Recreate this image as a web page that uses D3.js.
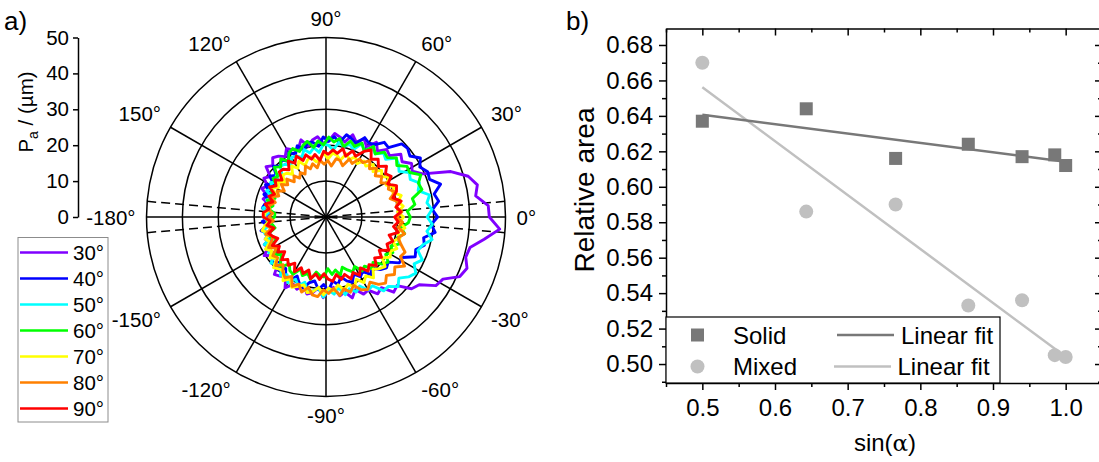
<!DOCTYPE html>
<html>
<head>
<meta charset="utf-8">
<script src="https://cdn.jsdelivr.net/npm/d3@7"></script>
<style>
  body { margin: 0; background: #fff; }
  svg { display: block; font-family: "Liberation Sans", Arial, sans-serif; }
</style>
</head>
<body>
<svg id="chart" width="1099" height="462"></svg>
<script>
// ---------- panel a: pore radius P_a versus polar angle, one curve per inclination ----------
const profileAngles = [
  -180, -176, -172, -168, -164, -160, -156, -152, -148, -144, -140, -136, -132, -128, -124,
  -120, -116, -112, -108, -104, -100, -96, -92, -88, -84, -80, -76, -72, -68, -64,
  -60, -56, -52, -48, -44, -40, -36, -32, -28, -24, -20, -16, -12, -8, -4,
  0, 4, 8, 12, 16, 20, 24, 28, 32, 36, 40, 44, 48, 52, 56,
  60, 64, 68, 72, 76, 80, 84, 88, 92, 96, 100, 104, 108, 112, 116,
  120, 124, 128, 132, 136, 140, 144, 148, 152, 156, 160, 164, 168, 172, 176
];
const profile30 = [
  16.6, 15.0, 16.8, 18.2, 16.4, 16.0, 18.8, 18.1, 20.3, 18.1, 19.9, 18.5, 21.5, 20.9, 20.1,
  22.8, 20.8, 21.7, 19.7, 22.1, 21.4, 19.8, 22.5, 20.5, 19.7, 22.3, 21.5, 23.7, 21.8, 23.9,
  23.5, 25.8, 25.0, 28.2, 27.5, 31.1, 32.1, 36.1, 36.9, 40.8, 41.8, 40.5, 41.0, 44.5, 48.5,
  45.5, 45.3, 42.1, 43.1, 41.2, 37.0, 29.5, 27.2, 28.1, 26.2, 27.2, 24.6, 25.3, 23.3, 25.1,
  22.6, 24.2, 22.5, 24.1, 21.5, 22.6, 23.4, 21.2, 20.5, 22.5, 21.8, 20.3, 22.6, 20.5, 20.8,
  22.0, 20.3, 21.5, 22.2, 20.6, 21.8, 19.2, 20.4, 18.4, 19.6, 17.4, 18.2, 16.0, 17.0, 15.6
];
const profile40 = [
  15.7, 17.8, 16.6, 18.5, 16.3, 18.0, 16.5, 18.8, 18.3, 17.2, 19.8, 18.2, 19.9, 18.2, 20.2,
  20.4, 18.3, 19.9, 20.8, 18.8, 18.1, 20.3, 18.8, 20.5, 17.9, 19.1, 17.2, 18.7, 19.6, 17.7,
  19.2, 18.3, 20.4, 19.1, 21.1, 22.0, 21.4, 24.1, 24.0, 27.2, 26.6, 28.5, 27.8, 30.7, 29.4,
  31.1, 29.7, 31.7, 30.8, 33.2, 30.7, 31.0, 29.6, 31.0, 28.9, 29.7, 29.3, 26.0, 26.4, 24.3,
  23.8, 24.6, 22.1, 23.0, 23.6, 21.0, 22.5, 21.1, 22.3, 19.8, 21.1, 21.5, 19.6, 21.4, 19.4,
  20.8, 18.7, 20.1, 19.1, 20.4, 18.1, 19.3, 17.2, 19.1, 17.3, 18.4, 16.3, 17.4, 17.9, 15.9
];
const profile50 = [
  17.5, 16.1, 15.8, 17.9, 17.6, 16.3, 18.8, 17.5, 18.8, 17.4, 20.0, 18.9, 18.5, 20.6, 19.4,
  21.2, 19.3, 20.7, 19.1, 21.5, 20.9, 19.9, 22.3, 20.4, 21.6, 20.0, 22.3, 21.0, 22.5, 21.4,
  23.5, 23.1, 26.1, 26.0, 27.9, 26.5, 28.4, 29.5, 27.8, 29.4, 27.2, 28.1, 30.2, 28.4, 29.7,
  28.2, 29.6, 28.4, 29.5, 26.7, 27.7, 25.7, 26.3, 24.0, 25.0, 25.5, 23.1, 24.0, 22.3, 23.2,
  21.4, 22.7, 20.3, 21.3, 20.2, 21.2, 18.8, 20.0, 20.3, 18.1, 19.6, 18.4, 19.8, 17.9, 18.9,
  19.2, 17.4, 18.6, 19.1, 17.0, 18.1, 16.2, 18.2, 16.8, 18.1, 16.1, 17.2, 16.1, 17.8, 16.1
];
const profile60 = [
  14.3, 16.2, 15.1, 14.5, 16.7, 16.4, 15.0, 17.5, 16.2, 17.8, 16.2, 17.6, 18.7, 16.6, 18.0,
  18.4, 16.1, 17.6, 16.5, 17.9, 15.6, 16.4, 16.7, 14.4, 16.1, 15.0, 16.6, 14.7, 15.9, 17.0,
  15.9, 18.1, 17.4, 19.4, 18.2, 20.4, 21.4, 19.6, 21.1, 19.8, 21.9, 20.7, 22.4, 21.1, 23.0,
  23.5, 22.7, 25.0, 24.6, 27.8, 27.4, 28.9, 26.4, 26.6, 24.4, 25.6, 23.8, 24.3, 22.3, 23.7,
  21.2, 22.9, 21.2, 22.2, 20.2, 22.2, 21.0, 22.3, 20.1, 21.3, 19.7, 21.7, 20.9, 19.7, 21.2,
  20.6, 18.8, 20.5, 18.8, 20.0, 17.6, 18.2, 16.0, 17.3, 16.5, 15.1, 17.0, 15.1, 16.2, 14.3
];
const profile70 = [
  17.3, 15.8, 17.2, 18.2, 16.3, 18.0, 17.1, 19.1, 17.8, 19.3, 17.9, 20.3, 19.5, 19.2, 21.4,
  19.9, 21.8, 20.8, 19.9, 21.7, 21.1, 19.7, 21.7, 19.8, 20.7, 19.2, 21.0, 19.7, 21.1, 19.3,
  21.1, 19.8, 21.5, 19.6, 20.7, 21.5, 19.4, 21.1, 20.3, 21.6, 19.8, 21.4, 20.4, 22.2, 20.6,
  21.6, 20.0, 21.7, 20.5, 21.8, 19.8, 20.7, 19.0, 20.8, 19.2, 20.2, 18.2, 19.7, 18.0, 18.8,
  17.2, 18.7, 17.2, 18.5, 16.3, 17.5, 17.9, 16.1, 17.9, 16.3, 15.6, 17.3, 16.7, 15.5, 17.3,
  15.7, 17.1, 15.1, 16.4, 16.8, 15.0, 16.6, 15.6, 17.1, 15.2, 16.5, 14.9, 16.9, 15.8, 17.0
];
const profile80 = [
  15.9, 14.7, 16.8, 15.6, 17.5, 15.7, 16.6, 18.1, 16.3, 18.3, 17.6, 19.5, 17.9, 19.5, 20.4,
  19.1, 21.5, 20.2, 22.0, 20.2, 22.0, 22.3, 20.3, 21.3, 20.0, 22.2, 20.6, 22.0, 20.5, 22.6,
  23.3, 21.9, 23.8, 24.8, 23.4, 24.9, 23.7, 25.8, 23.5, 24.1, 22.2, 20.9, 22.4, 20.3, 21.4,
  19.7, 21.2, 19.7, 20.5, 18.6, 20.5, 19.0, 19.9, 18.0, 19.2, 17.9, 19.6, 18.1, 19.9, 18.3,
  18.7, 16.6, 17.4, 15.0, 16.2, 16.5, 14.3, 15.7, 14.7, 15.9, 13.9, 15.3, 14.1, 15.3, 13.3,
  14.3, 13.1, 14.5, 13.2, 15.2, 13.9, 15.4, 13.7, 15.4, 14.4, 16.4, 14.7, 15.9, 16.5, 14.9
];
const profile90 = [
  17.5, 15.6, 16.5, 14.8, 16.6, 15.8, 14.7, 16.9, 15.3, 16.6, 15.0, 17.2, 15.9, 17.1, 15.5,
  17.6, 15.7, 17.0, 15.5, 17.7, 16.1, 17.5, 15.8, 17.3, 18.0, 16.3, 17.9, 16.8, 18.6, 17.2,
  18.7, 17.1, 19.1, 17.9, 19.5, 17.7, 19.1, 17.5, 19.8, 18.6, 19.8, 18.3, 20.6, 19.0, 20.2,
  19.1, 20.9, 19.7, 21.4, 19.4, 20.9, 21.5, 19.5, 21.4, 20.5, 22.0, 20.3, 21.7, 20.4, 22.5,
  21.1, 18.8, 19.9, 17.8, 19.6, 18.0, 18.8, 17.5, 18.3, 15.9, 17.7, 16.6, 18.2, 17.0, 18.9,
  17.3, 18.8, 16.7, 17.9, 18.1, 16.0, 17.5, 16.4, 17.8, 15.7, 16.9, 15.4, 17.3, 16.0, 17.5
];
const inclinationLabels = ["30°", "40°", "50°", "60°", "70°", "80°", "90°"];
const inclinationColors = ["#8000ff", "#0000ff", "#00ffff", "#00ff00", "#ffff00", "#ff8000", "#ff0000"];
const profiles = [profile30, profile40, profile50, profile60, profile70, profile80, profile90];

const ringValues = [10, 20, 30, 40, 50];
const radialTicks = [0, 10, 20, 30, 40, 50];
const spokeAngles = [0, 30, 60, 90, 120, 150, 180, 210, 240, 270, 300, 330];
const angleTickValues = [0, 30, 60, 90, 120, 150, 180, -150, -120, -90, -60, -30];
const angleTickLabels = ["0°", "30°", "60°", "90°", "120°", "150°", "-180°", "-150°", "-120°", "-90°", "-60°", "-30°"];
const guideAngles = [5, -5];

// ---------- panel b: relative area versus sin(alpha) ----------
const sinAlpha = [0.5, 0.643, 0.766, 0.866, 0.940, 0.985, 1.0];
const solidArea = [0.637, 0.644, 0.616, 0.624, 0.617, 0.618, 0.612];
const mixedArea = [0.670, 0.586, 0.590, 0.533, 0.536, 0.505, 0.504];
const xMajorTicks = [0.5, 0.6, 0.7, 0.8, 0.9, 1.0];
const xMinorTicks = [0.45, 0.55, 0.65, 0.75, 0.85, 0.95, 1.05];
const yMajorTicks = [0.50, 0.52, 0.54, 0.56, 0.58, 0.60, 0.62, 0.64, 0.66, 0.68];
const yMinorTicks = [0.49, 0.51, 0.53, 0.55, 0.57, 0.59, 0.61, 0.63, 0.65, 0.67];

const svg = d3.select("#chart");
const ink = "#000";

// ===== panel a =====
const cx = 326, cy = 217, outerR = 179.5;
const rScale = d3.scaleLinear().domain([0, 50]).range([0, outerR]);
const rad = d => d * Math.PI / 180;
const gp = svg.append("g").attr("transform", `translate(${cx},${cy})`);

gp.selectAll("circle.ring").data(ringValues).join("circle")
  .attr("class", "ring").attr("r", d => rScale(d))
  .attr("fill", "none").attr("stroke", ink).attr("stroke-width", 1.5);

gp.selectAll("line.spoke").data(spokeAngles).join("line")
  .attr("class", "spoke")
  .attr("x1", 0).attr("y1", 0)
  .attr("x2", d => rScale(50) * Math.cos(rad(d)))
  .attr("y2", d => -rScale(50) * Math.sin(rad(d)))
  .attr("stroke", ink).attr("stroke-width", 1.5);

gp.selectAll("line.guide").data(guideAngles).join("line")
  .attr("class", "guide")
  .attr("x1", d => rScale(50) * Math.cos(rad(d)))
  .attr("y1", d => -rScale(50) * Math.sin(rad(d)))
  .attr("x2", d => rScale(50) * Math.cos(rad(d + 180)))
  .attr("y2", d => -rScale(50) * Math.sin(rad(d + 180)))
  .attr("stroke", ink).attr("stroke-width", 1.5).attr("stroke-dasharray", "9,5");

const radialLine = d3.lineRadial()
  .angle(d => rad(90 - d[0]))
  .radius(d => rScale(d[1]))
  .curve(d3.curveLinearClosed);

profiles.forEach((vals, k) => {
  gp.append("path")
    .attr("d", radialLine(profileAngles.map((a, i) => [a, vals[i]])))
    .attr("fill", "none")
    .attr("stroke", inclinationColors[k])
    .attr("stroke-width", 2.9)
    .attr("stroke-linejoin", "round");
});

// angular labels around the rim
const labelR = outerR + 11;
angleTickValues.forEach((a, i) => {
  const c = Math.cos(rad(a)), s = Math.sin(rad(a));
  const x = cx + labelR * c, y = cy - labelR * s;
  const anchor = Math.abs(c) < 0.01 ? "middle" : (c > 0 ? "start" : "end");
  const by = Math.abs(s) < 0.01 ? y + 7.5 : (s > 0 ? y - 1 : y + 15);
  svg.append("text").attr("x", x).attr("y", by)
    .attr("text-anchor", anchor).attr("font-size", 20.5).attr("fill", ink)
    .text(angleTickLabels[i]);
});

// radial scale on the left
const radialAxisScale = d3.scaleLinear().domain([0, 50]).range([cy, cy - outerR]);
const ra = svg.append("g").attr("transform", "translate(78,0)")
  .call(d3.axisLeft(radialAxisScale).tickValues(radialTicks).tickSize(5).tickSizeOuter(0).tickPadding(4));
ra.select(".domain").attr("stroke-width", 1.5);
ra.selectAll(".tick line").attr("stroke-width", 1.5);
ra.selectAll(".tick text").attr("font-size", 20.5).attr("font-family", null).attr("fill", ink);

const pTitle = svg.append("text")
  .attr("transform", "translate(33,112) rotate(-90)")
  .attr("text-anchor", "middle").attr("font-size", 20.5).attr("fill", ink);
pTitle.append("tspan").text("P");
pTitle.append("tspan").attr("font-size", 14).attr("dy", 5).text("a");
pTitle.append("tspan").attr("dy", -5).text(" / (µm)");

svg.append("text").attr("x", 4).attr("y", 30).attr("font-size", 26).attr("fill", ink).text("a)");

// legend of inclinations
const lg = svg.append("g");
lg.append("rect").attr("x", 18).attr("y", 237.5).attr("width", 90).attr("height", 184.5)
  .attr("fill", "#fff").attr("stroke", "#8c8c8c").attr("stroke-width", 1);
inclinationLabels.forEach((t, i) => {
  const y = 252.5 + i * 26;
  lg.append("line").attr("x1", 20).attr("x2", 68).attr("y1", y).attr("y2", y)
    .attr("stroke", inclinationColors[i]).attr("stroke-width", 2.6);
  lg.append("text").attr("x", 73).attr("y", y + 7.5).attr("font-size", 20.5).attr("fill", ink).text(t);
});

// ===== panel b =====
const xL = 666, xR = 1102, yT = 28.5, yB = 383;
const x = d3.scaleLinear().domain([0.45, 1.05]).range([xL, xR]);
const y = d3.scaleLinear().domain([0.4893, 0.6893]).range([yB, yT]);
const gb = svg.append("g");
const tickFont = 24;

function styleAxis(g) {
  g.select(".domain").attr("stroke-width", 1.5);
  g.selectAll(".tick line").attr("stroke-width", 1.5);
  g.selectAll(".tick text").attr("font-family", null).attr("font-size", tickFont).attr("fill", ink);
}
function minorOnly(g) {
  g.select(".domain").remove();
  g.selectAll("line").attr("stroke-width", 1.5);
}

// minor ticks
gb.append("g").attr("transform", `translate(0,${yB})`)
  .call(d3.axisBottom(x).tickValues(xMinorTicks).tickSize(4).tickFormat("")).call(minorOnly);
gb.append("g").attr("transform", `translate(0,${yT})`)
  .call(d3.axisTop(x).tickValues(xMinorTicks).tickSize(-4).tickFormat("")).call(minorOnly);
gb.append("g").attr("transform", `translate(${xL},0)`)
  .call(d3.axisLeft(y).tickValues(yMinorTicks).tickSize(4).tickFormat("")).call(minorOnly);
gb.append("g").attr("transform", `translate(${xR},0)`)
  .call(d3.axisRight(y).tickValues(yMinorTicks).tickSize(-4).tickFormat("")).call(minorOnly);

// major ticks and labels
gb.append("g").attr("transform", `translate(0,${yB})`)
  .call(d3.axisBottom(x).tickValues(xMajorTicks).tickFormat(d3.format(".1f")).tickSize(7).tickSizeOuter(0).tickPadding(9))
  .call(styleAxis);
gb.append("g").attr("transform", `translate(0,${yT})`)
  .call(d3.axisTop(x).tickValues(xMajorTicks).tickFormat("").tickSize(-7).tickSizeOuter(0))
  .call(styleAxis);
gb.append("g").attr("transform", `translate(${xL},0)`)
  .call(d3.axisLeft(y).tickValues(yMajorTicks).tickFormat(d3.format(".2f")).tickSize(7).tickSizeOuter(0).tickPadding(6))
  .call(styleAxis);
gb.append("g").attr("transform", `translate(${xR},0)`)
  .call(d3.axisRight(y).tickValues(yMajorTicks).tickFormat("").tickSize(-7).tickSizeOuter(0))
  .call(styleAxis);

// least-squares fit through each data set
function linearFit(xs, ys) {
  const mx = d3.mean(xs), my = d3.mean(ys);
  const sxy = d3.sum(xs, (v, i) => (v - mx) * (ys[i] - my));
  const sxx = d3.sum(xs, v => (v - mx) * (v - mx));
  const slope = sxy / sxx;
  return v => my + slope * (v - mx);
}
const solidColor = "#787878", mixedColor = "#c0c0c0";
const fitSolid = linearFit(sinAlpha, solidArea);
const fitMixed = linearFit(sinAlpha, mixedArea);
const fitLine = f => d3.line().x(d => x(d)).y(d => y(f(d)))([0.5, 1.0]);

gb.append("path").attr("d", fitLine(fitMixed)).attr("fill", "none")
  .attr("stroke", mixedColor).attr("stroke-width", 2.5);
gb.append("path").attr("d", fitLine(fitSolid)).attr("fill", "none")
  .attr("stroke", solidColor).attr("stroke-width", 2.5);

gb.selectAll("rect.solid").data(sinAlpha).join("rect")
  .attr("class", "solid")
  .attr("x", d => x(d) - 6.5).attr("y", (d, i) => y(solidArea[i]) - 6.5)
  .attr("width", 13).attr("height", 13).attr("fill", solidColor);
gb.selectAll("circle.mixed").data(sinAlpha).join("circle")
  .attr("class", "mixed")
  .attr("cx", d => x(d)).attr("cy", (d, i) => y(mixedArea[i]))
  .attr("r", 7).attr("fill", mixedColor);

// legend box
const lb = gb.append("g");
const lTop = 317, row1 = 335, row2 = 366.5;
lb.append("rect").attr("x", xL).attr("y", lTop).attr("width", 334).attr("height", yB - lTop)
  .attr("fill", "#fff").attr("stroke", ink).attr("stroke-width", 1.2);
lb.append("rect").attr("x", 691).attr("y", row1 - 6.5).attr("width", 13).attr("height", 13).attr("fill", solidColor);
lb.append("circle").attr("cx", 697.5).attr("cy", row2).attr("r", 7).attr("fill", mixedColor);
lb.append("text").attr("x", 733).attr("y", row1 + 8.5).attr("font-size", tickFont).attr("fill", ink).text("Solid");
lb.append("text").attr("x", 733).attr("y", row2 + 8.5).attr("font-size", tickFont).attr("fill", ink).text("Mixed");
lb.append("line").attr("x1", 837).attr("x2", 894).attr("y1", row1).attr("y2", row1)
  .attr("stroke", solidColor).attr("stroke-width", 2.5);
lb.append("line").attr("x1", 834).attr("x2", 891).attr("y1", row2).attr("y2", row2)
  .attr("stroke", mixedColor).attr("stroke-width", 2.5);
lb.append("text").attr("x", 901).attr("y", row1 + 8.5).attr("font-size", tickFont).attr("fill", ink).text("Linear fit");
lb.append("text").attr("x", 897.5).attr("y", row2 + 8.5).attr("font-size", tickFont).attr("fill", ink).text("Linear fit");

// axis titles
svg.append("text").attr("transform", "translate(594,190) rotate(-90)")
  .attr("text-anchor", "middle").attr("font-size", 28).attr("fill", ink).text("Relative area");
const xt = svg.append("text").attr("x", 885).attr("y", 451)
  .attr("text-anchor", "middle").attr("font-size", 24).attr("fill", ink);
xt.append("tspan").text("sin(");
xt.append("tspan").attr("font-family", "'DejaVu Serif', serif").attr("font-size", 23).text("α");
xt.append("tspan").text(")");

svg.append("text").attr("x", 566).attr("y", 30).attr("font-size", 26).attr("fill", ink).text("b)");
</script>
</body>
</html>
